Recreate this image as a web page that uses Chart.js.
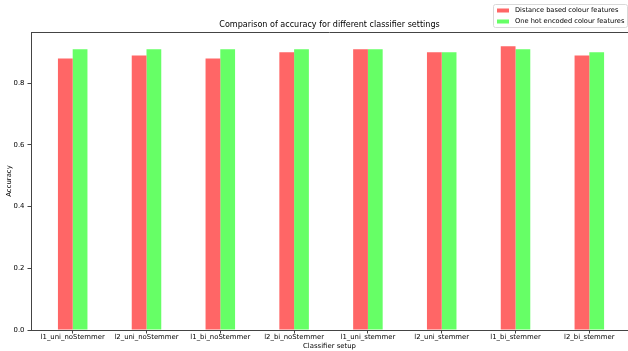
<!DOCTYPE html>
<html>
<head>
<meta charset="utf-8">
<script src="https://cdn.jsdelivr.net/npm/chart.js@4/dist/chart.umd.min.js"></script>
<style>
  html, body { margin: 0; padding: 0; background: #fff; overflow: hidden; }
  canvas { display: block; }
</style>
</head>
<body>
<canvas id="chart" width="628" height="351"></canvas>
<script>
// Classifier configurations on the x axis
const categories = [
  'l1_uni_noStemmer', 'l2_uni_noStemmer', 'l1_bi_noStemmer', 'l2_bi_noStemmer',
  'l1_uni_stemmer', 'l2_uni_stemmer', 'l1_bi_stemmer', 'l2_bi_stemmer'
];
// Accuracy per configuration for each colour feature encoding
const distanceAcc = [0.88, 0.89, 0.88, 0.90, 0.91, 0.90, 0.92, 0.89];
const oneHotAcc   = [0.91, 0.91, 0.91, 0.91, 0.91, 0.90, 0.91, 0.90];
// Labelled accuracy ticks
const yTicks = [0.0, 0.2, 0.4, 0.6, 0.8];

const FONT = 'DejaVu Sans';
const SMALL = 6.9;
const LEGEND_SIZE = 6.65;
const AXIS_COLOR = '#444';

// Top spine plus a matplotlib-style legend box in the upper right corner
const framePlugin = {
  id: 'frame',
  afterDraw(chart) {
    const { ctx, chartArea } = chart;
    ctx.save();
    ctx.strokeStyle = AXIS_COLOR;
    ctx.lineWidth = 1;
    ctx.beginPath();
    ctx.moveTo(chartArea.left, Math.round(chartArea.top) + 0.5);
    ctx.lineTo(chartArea.right, Math.round(chartArea.top) + 0.5);
    ctx.stroke();

    // legend
    const bx = 493.5, by = 4.5, bw = 134, bh = 23;
    ctx.fillStyle = 'rgba(255,255,255,0.8)';
    ctx.strokeStyle = '#d9d9d9';
    ctx.beginPath();
    ctx.roundRect(bx, by, bw, bh, 2);
    ctx.fill();
    ctx.stroke();
    ctx.font = LEGEND_SIZE + 'px "' + FONT + '"';
    ctx.textBaseline = 'middle';
    ctx.textAlign = 'left';
    chart.data.datasets.forEach((ds, i) => {
      const cy = 10.5 + i * 11;
      ctx.fillStyle = ds.backgroundColor;
      ctx.fillRect(497, cy - 2, 12, 4);
      ctx.fillStyle = '#000';
      ctx.fillText(ds.label, 515, cy);
    });
    ctx.restore();
  }
};

new Chart(document.getElementById('chart'), {
  type: 'bar',
  data: {
    datasets: [
      {
        label: 'Distance based colour features',
        data: distanceAcc.map((v, i) => ({ x: i, y: v })),
        backgroundColor: '#ff6666'
      },
      {
        label: 'One hot encoded colour features',
        data: oneHotAcc.map((v, i) => ({ x: i, y: v })),
        backgroundColor: '#66ff66'
      }
    ]
  },
  options: {
    responsive: false,
    animation: false,
    devicePixelRatio: 1,
    layout: { padding: 0 },
    datasets: {
      bar: { categoryPercentage: 0.4, barPercentage: 1.0, borderWidth: 0 }
    },
    plugins: {
      legend: { display: false },
      tooltip: { enabled: false },
      title: {
        display: true,
        fullSize: false,
        text: 'Comparison of accuracy for different classifier settings',
        color: '#000',
        font: { family: FONT, size: 8.05, weight: 'normal' },
        padding: { top: 20.2, bottom: 2.14 }
      }
    },
    scales: {
      x: {
        type: 'linear',
        offset: false,
        min: -0.565,
        max: 7.524,
        afterBuildTicks: s => { s.ticks = categories.map((_, i) => ({ value: i })); },
        afterFit: s => { s.height = 21; },
        ticks: {
          autoSkip: false,
          maxRotation: 0,
          padding: 0,
          color: '#000',
          font: { family: FONT, size: SMALL },
          callback: v => categories[v]
        },
        grid: { offset: false, drawOnChartArea: false, drawTicks: true, tickLength: 3.5, color: AXIS_COLOR },
        border: { display: true, color: AXIS_COLOR, width: 1 },
        title: {
          display: true,
          text: 'Classifier setup',
          color: '#000',
          font: { family: FONT, size: SMALL },
          padding: { top: 0, bottom: 0.5 }
        }
      },
      y: {
        min: 0,
        max: 0.966,
        afterBuildTicks: s => { s.ticks = yTicks.map(v => ({ value: v })); },
        afterFit: s => { s.width = 31; },
        ticks: {
          padding: 3,
          color: '#000',
          font: { family: FONT, size: SMALL },
          callback: v => Number(v).toFixed(1)
        },
        grid: { drawOnChartArea: false, drawTicks: true, tickLength: 3.5, color: AXIS_COLOR },
        border: { display: true, color: AXIS_COLOR, width: 1 },
        title: {
          display: true,
          text: 'Accuracy',
          color: '#000',
          font: { family: FONT, size: SMALL },
          padding: { top: 5.5, bottom: 0 }
        }
      }
    }
  },
  plugins: [framePlugin]
});
</script>
</body>
</html>
